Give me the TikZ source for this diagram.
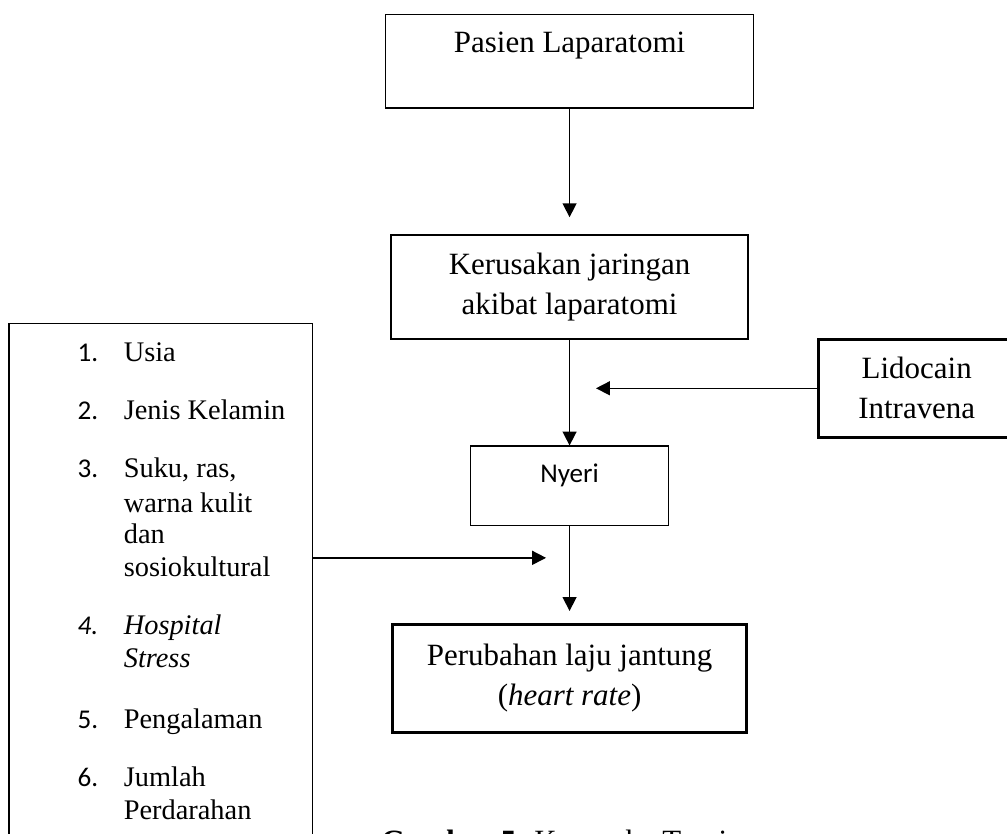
\documentclass[tikz,border=0pt]{standalone}
\usepackage{fontspec}
\setmainfont{Liberation Serif}
\newfontfamily\calibri{Carlito}
\usepackage{tikz}
\usetikzlibrary{arrows.meta}

\begin{document}
\begin{tikzpicture}[
    font=\fontsize{12}{15.5}\selectfont,
    box/.style={draw, line width=0.6pt, inner sep=0pt},
    thickbox/.style={draw, line width=1.2pt, inner sep=0pt},
    arr/.style={line width=0.6pt, -{Triangle[length=5.4pt, width=5.4pt]}},
    listnum/.style={font=\calibri\fontsize{10.5}{13}\selectfont, anchor=base west, inner sep=0pt},
    listitem/.style={font=\fontsize{11}{13}\selectfont, anchor=base west, inner sep=0pt}
]
    \useasboundingbox (0, 0) rectangle (13.72, -11.36);

    % Main chain
    \node[box, minimum width=5.01cm, text height=0.52cm, text depth=0.75cm, anchor=base] (pasien) at (7.76, -0.72) {Pasien Laparatomi};
    \node[box, minimum width=4.86cm, minimum height=1.42cm, align=center] (kerusakan) at (7.76, -3.91) {Kerusakan jaringan\\akibat laparatomi};
    \node[box, font=\calibri\fontsize{10.5}{13}\selectfont, minimum width=2.70cm, text height=0.49cm, text depth=0.59cm, anchor=base] (nyeri) at (7.76, -6.57) {Nyeri};
    \node[thickbox, minimum width=4.82cm, minimum height=1.47cm, align=center] (perubahan) at (7.76, -9.24) {Perubahan laju jantung\\(\textit{heart rate})};

    % Lidocain
    \node[thickbox, minimum width=2.67cm, minimum height=1.335cm, align=center] (lido) at (12.49, -5.29) {Lidocain\\Intravena};
    \coordinate (lidoend) at (8.12, -5.29);

    % Faktor box
    \node[box, minimum width=4.13cm, minimum height=7.44cm] (faktor) at (2.19, -8.13) {};
    \coordinate (faktorend) at (7.44, -7.60);
    \foreach \y/\n [count=\k] in {-4.92/1., -5.71/2., -6.51/3., -8.65/\textit{4.}, -9.92/5., -10.72/6.}
        \node[listnum] (num\k) at (1.05, \y) {\n};
    \foreach \y/\t [count=\k] in {-4.92/Usia, -5.71/Jenis Kelamin, -6.51/{Suku, ras,}, -6.98/warna kulit, -7.40/dan, -7.86/sosiokultural, -8.65/\textit{Hospital}, -9.10/\textit{Stress}, -9.92/Pengalaman, -10.72/Jumlah, -11.17/Perdarahan}
        \node[listitem] (line\k) at (1.68, \y) {\t};

    % Arrows
    \draw[arr, shorten >=0.23cm] (pasien) -- (kerusakan);
    \draw[arr] (kerusakan) -- (nyeri);
    \draw[arr, shorten >=0.16cm] (nyeri) -- (perubahan);
    \draw[arr] (lido.west) -- (lido.west -| lidoend);
    \draw[arr] (faktorend -| faktor.east) -- (faktorend);

    % Caption
    \node[anchor=base west] (caption) at (5.07, -11.60) {\textbf{Gambar 5.} Kerangka Teori};
\end{tikzpicture}
\end{document}
